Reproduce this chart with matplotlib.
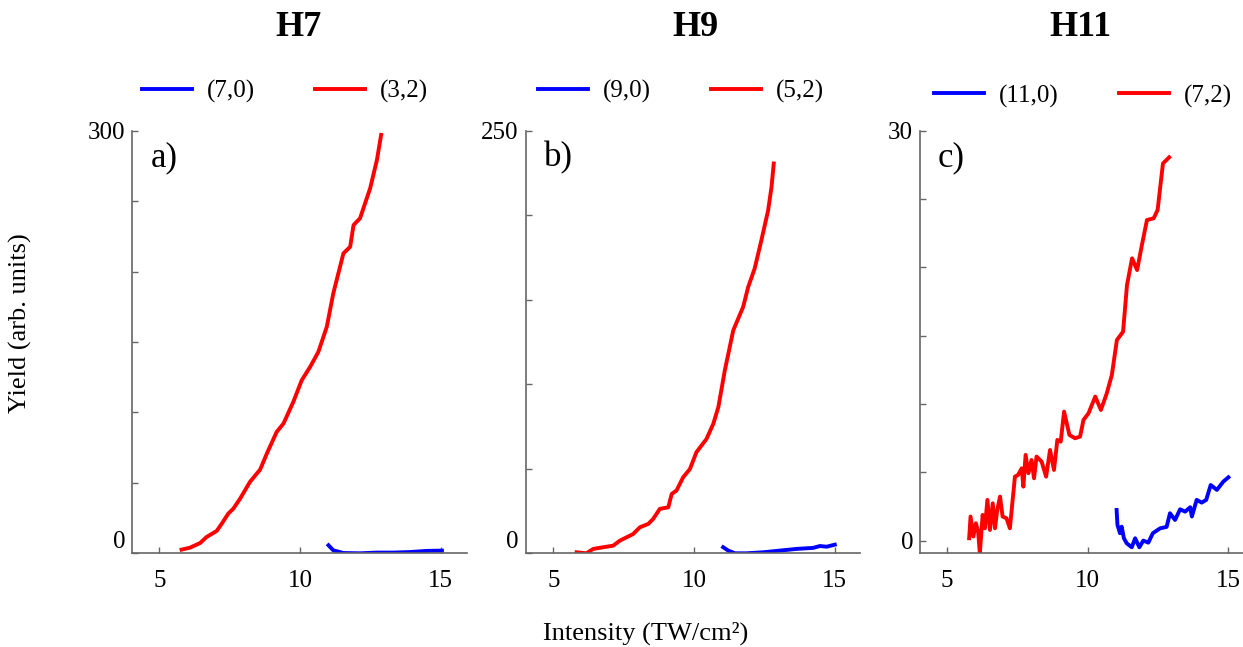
import matplotlib
matplotlib.use("Agg")
import matplotlib.pyplot as plt

plt.rcParams['font.family'] = ['Liberation Serif', 'DejaVu Serif']

# ---- data ----
titles = ['H7', 'H9', 'H11']
panel_tags = ['a)', 'b)', 'c)']
blue_labels = ['(7,0)', '(9,0)', '(11,0)']
red_labels = ['(3,2)', '(5,2)', '(7,2)']
ytop = [300, 250, 30]
ystep = [50, 50, 5]

# H7
red_x_a = [5.79, 6.09, 6.45, 6.68, 7.04, 7.22, 7.45, 7.63, 7.87, 8.22, 8.58, 8.82, 9.17, 9.41,
           9.76, 10.06, 10.36, 10.65, 10.95, 11.18, 11.54, 11.78, 11.90, 12.13, 12.49, 12.73, 12.88]
red_y_a = [2.6, 4.0, 7.3, 11.6, 15.9, 21.1, 28.2, 31.7, 38.8, 50.7, 59.4, 70.8, 86.2, 92.1,
           107.5, 122.9, 132.4, 143.0, 160.8, 184.5, 212.9, 217.6, 233.0, 237.8, 259.1, 279.2, 297.0]
blue_x_a = [11.01, 11.18, 11.54, 12.13, 12.73, 13.32, 13.91, 14.50, 15.04]
blue_y_a = [5.7, 2.1, 0.2, 0.0, 0.5, 0.5, 0.9, 1.7, 1.9]

# H9
red_x_b = [5.83, 6.18, 6.42, 6.78, 7.13, 7.37, 7.61, 7.84, 8.08, 8.38, 8.55, 8.79, 9.09, 9.21,
           9.38, 9.62, 9.86, 10.09, 10.45, 10.69, 10.87, 11.10, 11.40, 11.75, 11.93, 12.16,
           12.40, 12.64, 12.76, 12.84]
red_y_b = [0.6, 0.0, 2.6, 3.6, 4.5, 7.5, 9.5, 11.4, 15.4, 17.4, 20.3, 26.3, 27.2, 35.1,
           37.1, 45.0, 49.9, 59.8, 67.7, 76.6, 86.5, 108.2, 131.9, 145.7, 157.5, 168.4,
           185.2, 202.9, 216.7, 230.6]
blue_x_b = [11.04, 11.22, 11.46, 11.87, 12.46, 13.06, 13.65, 14.24, 14.48, 14.72, 15.01]
blue_y_b = [3.6, 1.6, 0.0, 0.0, 0.6, 1.6, 2.6, 3.2, 4.3, 3.9, 5.1]

# H11
red_x_c = [5.78, 5.83, 5.93, 6.02, 6.10, 6.16, 6.26, 6.34, 6.43, 6.52, 6.62, 6.70, 6.78, 6.88,
           6.97, 7.11, 7.23, 7.41, 7.52, 7.65, 7.71, 7.79, 7.89, 8.00, 8.09, 8.18, 8.36, 8.52,
           8.66, 8.80, 8.92, 9.04, 9.16, 9.35, 9.55, 9.73, 9.85, 10.03, 10.27, 10.47, 10.68,
           10.86, 11.04, 11.26, 11.40, 11.58, 11.76, 11.93, 12.11, 12.35, 12.49, 12.68, 12.90]
red_y_c = [0.17, 1.76, 0.30, 1.27, 0.66, -0.93, 1.88, 0.90, 2.98, 0.78, 2.73, 0.90, 2.24, 3.22,
           1.76, 1.63, 0.90, 4.68, 4.80, 5.29, 3.95, 6.27, 4.93, 5.90, 4.56, 6.15, 5.78, 4.68,
           6.63, 5.17, 7.37, 7.24, 9.44, 7.73, 7.49, 7.61, 8.83, 9.32, 10.54, 9.56, 10.78,
           12.12, 14.68, 15.29, 18.71, 20.66, 19.80, 21.63, 23.46, 23.59, 24.20, 27.60, 28.05]
blue_x_c = [11.03, 11.06, 11.15, 11.21, 11.29, 11.39, 11.57, 11.69, 11.84, 11.98, 12.16, 12.32,
            12.58, 12.81, 12.93, 13.11, 13.29, 13.47, 13.65, 13.71, 13.88, 14.06, 14.22, 14.38,
            14.60, 14.83, 15.01]
blue_y_c = [2.24, 1.15, 0.54, 1.02, 0.17, -0.20, -0.49, 0.17, -0.49, 0.0, -0.15, 0.54,
            0.90, 1.00, 2.00, 1.51, 2.29, 2.12, 2.44, 1.76, 2.98, 2.78, 2.98, 4.07,
            3.71, 4.32, 4.63]

reds = [(red_x_a, red_y_a), (red_x_b, red_y_b), (red_x_c, red_y_c)]
blues = [(blue_x_a, blue_y_a), (blue_x_b, blue_y_b), (blue_x_c, blue_y_c)]

# ---- layout ----
W, H = 1243, 647
fig = plt.figure(figsize=(W / 100, H / 100), dpi=100)

ax_left = [132.3, 525.7, 920.0]
ax_w = [334.4, 334.4, 323.0]
xlims = [(4.04, 15.92), (4.02, 15.91), (4.03, 15.53)]
ylims = [(0, 300), (0, 250), (-0.93, 30)]
title_x = [298, 695, 1080]
leg_x = [141.7, 538, 934]
leg_y = [91.5, 91.5, 96]
gray = '#666666'

for i in range(3):
    ax = fig.add_axes([ax_left[i] / W, 1 - 553.3 / H, ax_w[i] / W, (553.3 - 130.7) / H])
    bx, by = blues[i]
    rx, ry = reds[i]
    ax.plot(bx, by, color='#0000ff', lw=2.8, label=blue_labels[i])
    ax.plot(rx, ry, color='#ff0000', lw=2.8, label=red_labels[i])
    ax.set_xlim(*xlims[i])
    ax.set_ylim(*ylims[i])
    ax.spines['top'].set_visible(False)
    ax.spines['right'].set_visible(False)
    for s in ['left', 'bottom']:
        ax.spines[s].set_color(gray)
        ax.spines[s].set_linewidth(1.2)
    ax.set_xticks([5, 10, 15])
    yt = list(range(0, ytop[i] + 1, ystep[i]))
    ax.set_yticks(yt)
    ax.set_yticklabels(['0'] + [''] * (len(yt) - 2) + [str(ytop[i])])
    ax.tick_params(axis='both', direction='in', length=4, width=1, color=gray,
                   labelsize=18)
    ax.tick_params(axis='x', pad=12)
    ax.tick_params(axis='y', pad=5)
    if i < 2:
        ax.get_yticklabels()[0].set_verticalalignment('bottom')
    ax.text(0.055, 0.935, panel_tags[i], transform=ax.transAxes, fontsize=25,
            ha='left', va='center')
    fig.text(title_x[i] / W, 1 - 27 / H, titles[i], fontsize=26, fontweight='bold',
             ha='center', va='center')
    ax.legend(loc='center left', bbox_to_anchor=(leg_x[i] / W, 1 - leg_y[i] / H),
              bbox_transform=fig.transFigure, ncol=2, frameon=False, fontsize=18,
              borderpad=0, borderaxespad=0, handlelength=2.0, handletextpad=0.6,
              columnspacing=2.4)

fig.text(20 / W, 0.5, 'Yield (arb. units)', rotation=90, fontsize=19,
         ha='center', va='center')
fig.text(646 / W, 1 - 633 / H, 'Intensity (TW/cm²)', fontsize=19,
         ha='center', va='center')

fig.savefig('out.png', dpi=100)
